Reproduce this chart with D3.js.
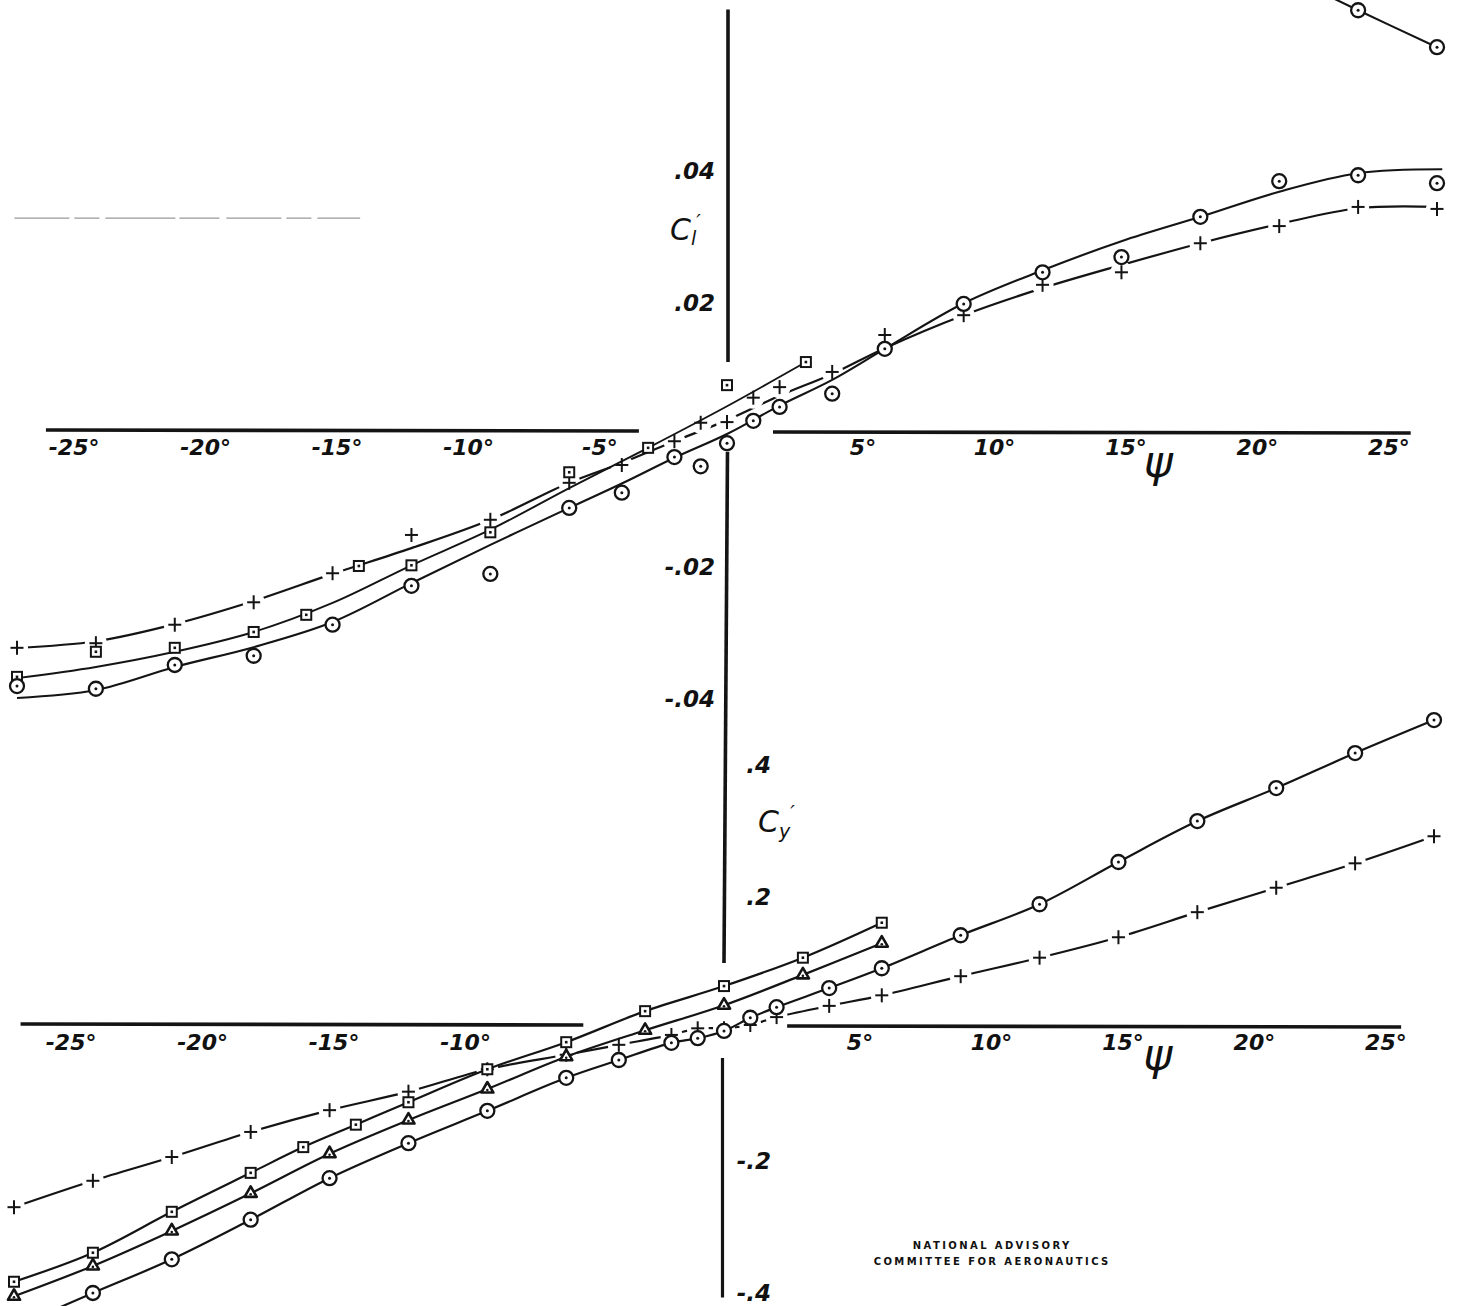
<!DOCTYPE html>
<html><head><meta charset="utf-8">
<script src="https://cdn.jsdelivr.net/npm/d3@7"></script>
<style>
html,body{margin:0;padding:0;background:#fff;}
svg{display:block;}
text{font-family:"DejaVu Sans",sans-serif;font-style:oblique;fill:#111;}
</style></head><body>
<svg id="chart" width="1458" height="1306"></svg>
<script>
// ---------------- DATA ----------------
// Upper panel: rolling-moment coefficient Cl' vs sideslip psi (deg)
const psiUpper = [-27,-24,-21,-18,-15,-12,-9,-6,-4,-2,-1,0,1,2,4,6,9,12,15,18,21,24,27];
const clCircle = [-0.0385,-0.0389,-0.0353,-0.0339,-0.0292,-0.0233,-0.0215,-0.0115,-0.0092,-0.0038,-0.0052,-0.0017,0.0017,0.0038,0.0058,0.0126,0.0194,0.0242,0.0265,0.0326,0.0380,0.0389,0.0377];
const clPlus   = [-0.0327,-0.0320,-0.0292,-0.0258,-0.0214,-0.0156,-0.0133,-0.0077,-0.0050,-0.0014,0.0014,0.0015,0.0052,0.0068,0.0091,0.0147,0.0177,0.0223,0.0242,0.0286,0.0312,0.0341,0.0338];
const psiUpperSquare = [-27,-24,-21,-18,-16,-14,-12,-9,-6,-3,0,3];
const clSquare = [-0.0371,-0.0333,-0.0327,-0.0303,-0.0277,-0.0203,-0.0202,-0.0152,-0.0061,-0.0024,0.0071,0.0106];
const psiUpperTop = [21,24,27];
const clTop = [0.0697,0.0639,0.0583];

// Faired curves of the upper panel
const psiCircleFair = [-27,-24,-21,-18,-15,-12,-9,-6,-4,-2,0,2,4,6,9,12,15,18,21,24,27.2];
const clCircleFair  = [-0.0403,-0.0391,-0.0356,-0.0326,-0.0288,-0.0229,-0.0171,-0.0115,-0.0078,-0.0039,-0.0003,0.0040,0.0079,0.0126,0.0195,0.0245,0.0289,0.0326,0.0364,0.0392,0.0398];
const psiSquareFair = [-27,-24,-21,-18,-15,-12,-9,-6,-3,0,3];
const clSquareFair  = [-0.0373,-0.0356,-0.0333,-0.0303,-0.0259,-0.0202,-0.0148,-0.0085,-0.0024,0.0039,0.0106];
const psiPlusFair = [-27,-24,-21,-18,-15,-12,-9,-6,-4,-2,0,2,4,6,9,12,15,18,21,24,27];
const clPlusFair  = [-0.0327,-0.0317,-0.0291,-0.0256,-0.0215,-0.0176,-0.0133,-0.0077,-0.0047,-0.0014,0.0018,0.0055,0.0088,0.0127,0.0177,0.0218,0.0253,0.0286,0.0315,0.0339,0.0341];

// Lower panel: side-force coefficient Cy' vs psi (deg)
const psiLower = [-27,-24,-21,-18,-15,-12,-9,-6,-4,-2,-1,0,1,2,4,6,9,12,15,18,21,24,27];
const cyCircle = [-0.455,-0.403,-0.352,-0.292,-0.229,-0.176,-0.127,-0.077,-0.050,-0.024,-0.017,-0.006,0.014,0.030,0.059,0.089,0.139,0.186,0.250,0.312,0.362,0.415,0.465];
const cyPlus   = [-0.273,-0.233,-0.197,-0.159,-0.126,-0.098,-0.064,-0.042,-0.027,-0.012,-0.002,-0.002,0.003,0.015,0.032,0.048,0.077,0.105,0.136,0.174,0.211,0.248,0.289];
const psiLowerSquare = [-27,-24,-21,-18,-16,-14,-12,-9,-6,-3,0,3,6];
const cySquare = [-0.386,-0.342,-0.280,-0.221,-0.182,-0.148,-0.114,-0.064,-0.023,0.024,0.062,0.105,0.158];
const psiLowerTri = [-27,-24,-21,-18,-15,-12,-9,-6,-3,0,3,6];
const cyTri = [-0.408,-0.362,-0.309,-0.252,-0.192,-0.141,-0.094,-0.045,-0.005,0.033,0.079,0.127];

// Tick labels
const upperXTicks = [-25,-20,-15,-10,-5,5,10,15,20,25];
const lowerXTicks = [-25,-20,-15,-10,5,10,15,20,25];
const upperYTicks = [0.04,0.02,-0.02,-0.04];
const upperYLabels = [".04",".02","-.02","-.04"];
const lowerYTicks = [0.4,0.2,-0.2,-0.4];
const lowerYLabels = [".4",".2","-.2","-.4"];
const noteLines = ["NATIONAL ADVISORY","COMMITTEE FOR AERONAUTICS"];

// ---------------- DRAW ----------------
const svg = d3.select("#chart");
const W = 1458, H = 1306;
svg.append("rect").attr("width",W).attr("height",H).attr("fill","#fff");

const xU = d3.scaleLinear().domain([-27,27]).range([17,1437]);
const yU = d3.scaleLinear().domain([-0.04,0.04]).range([696,168]);
const xL = d3.scaleLinear().domain([-27,27]).range([14,1434]);
const yL = d3.scaleLinear().domain([-0.4,0.4]).range([1291,763]);

const ink = "#141414";
const defs = svg.append("defs");

function zip(xs, ys){ return xs.map((x,i)=>[x, ys[i]]); }

// masks for the gapped (long-dash) plus lines
function makeMask(id, pts, xs, ys){
  const m = defs.append("mask").attr("id",id).attr("maskUnits","userSpaceOnUse")
    .attr("x",0).attr("y",0).attr("width",W).attr("height",H);
  m.append("rect").attr("width",W).attr("height",H).attr("fill","#fff");
  m.selectAll("circle").data(pts).join("circle")
    .attr("cx",d=>xs(d[0])).attr("cy",d=>ys(d[1])).attr("r",11).attr("fill","#000");
}

// ---- axes lines ----
const axes = svg.append("g").attr("stroke",ink).attr("stroke-linecap","butt").attr("fill","none");
// upper horizontal
axes.append("line").attr("x1",xU(-25.9)).attr("x2",xU(-3.35)).attr("y1",yU(0)-2).attr("y2",yU(0)-1).attr("stroke-width",3.6);
axes.append("line").attr("x1",xU(1.75)).attr("x2",xU(26.0)).attr("y1",yU(0)).attr("y2",yU(0)+1).attr("stroke-width",3.6);
// upper vertical
axes.append("line").attr("x1",xU(0)+1).attr("x2",xU(0)+1).attr("y1",yU(0.064)).attr("y2",yU(0.0106)).attr("stroke-width",3.6);
axes.append("line").attr("x1",xU(0)+0.5).attr("x2",xL(0)).attr("y1",yU(-0.003)).attr("y2",yL(0.097)).attr("stroke-width",3.6);
// lower vertical (below axis)
axes.append("line").attr("x1",xL(0)-1.5).attr("x2",xL(0)-1.5).attr("y1",yL(-0.047)).attr("y2",yL(-0.41)).attr("stroke-width",3.2);
// lower horizontal
axes.append("line").attr("x1",xL(-26.75)).attr("x2",xL(-5.35)).attr("y1",yL(0)-3).attr("y2",yL(0)-2).attr("stroke-width",3.6);
axes.append("line").attr("x1",xL(2.4)).attr("x2",xL(25.75)).attr("y1",yL(0)-1).attr("y2",yL(0)).attr("stroke-width",3.6);

// faint scan line artefact in upper-left
svg.append("line").attr("x1",xU(-27.1)).attr("x2",xU(-13.95)).attr("y1",yU(0.0324)).attr("y2",yU(0.0324))
  .attr("stroke","#9a9a9a").attr("stroke-width",1.3).attr("stroke-dasharray","55,5,25,6,70,4,40,7");

// ---- tick labels ----
const fmt = d => (d<0?"-":"") + Math.abs(d) + "°";
function xAxis(scale, y, ticks){
  const g = svg.append("g").attr("transform",`translate(0,${y})`)
    .call(d3.axisBottom(scale).tickValues(ticks).tickFormat(fmt).tickSize(0).tickPadding(7));
  g.select(".domain").remove();
  g.selectAll("text").attr("font-size",22).attr("dx",4)
    .style("font-family",'"DejaVu Sans",sans-serif').style("font-style","oblique")
    .style("font-weight","bold").attr("fill",ink);
  return g;
}
xAxis(xU, yU(0), upperXTicks);
xAxis(xL, yL(0), lowerXTicks);

// psi labels
svg.append("text").attr("x",xU(16.4)).attr("y",yU(0)+45).attr("font-size",44).attr("text-anchor","middle").text("ψ");
svg.append("text").attr("x",xL(16.5)).attr("y",yL(0)+43).attr("font-size",44).attr("text-anchor","middle").text("ψ");

// y labels upper (left of axis)
svg.append("g").selectAll("text").data(upperYTicks).join("text")
  .attr("x",xU(0)-12).attr("y",d=>yU(d)+11).attr("text-anchor","end").attr("font-size",23)
  .attr("font-weight","bold").text((d,i)=>upperYLabels[i]);
const clLab = svg.append("text").attr("x",xU(0)-57).attr("y",yU(0.031)+13).attr("font-size",30);
clLab.append("tspan").text("C");
clLab.append("tspan").attr("font-size",19).attr("dy",5).text("l");
clLab.append("tspan").attr("font-size",20).attr("dy",-17).text("′");

// y labels lower (right of axis)
svg.append("g").selectAll("text").data(lowerYTicks).join("text")
  .attr("x",xL(0)+47).attr("y",d=>yL(d)+10).attr("text-anchor","end").attr("font-size",23)
  .attr("font-weight","bold").text((d,i)=>lowerYLabels[i]);
const cyLab = svg.append("text").attr("x",xL(0)+34).attr("y",yL(0.31)+10).attr("font-size",30);
cyLab.append("tspan").text("C");
cyLab.append("tspan").attr("font-size",19).attr("dy",6).text("y");
cyLab.append("tspan").attr("font-size",20).attr("dy",-19).text("′");

// ---- lines ----
const curve = d3.curveCatmullRom.alpha(0.5);
function drawLine(data, xs, ys, opts={}){
  const p = svg.append("path").datum(data)
    .attr("d", d3.line().x(d=>xs(d[0])).y(d=>ys(d[1])).curve(curve))
    .attr("fill","none").attr("stroke",ink).attr("stroke-width",opts.w||2.1)
    .attr("stroke-linejoin","round");
  if (opts.mask) p.attr("mask",`url(#${opts.mask})`);
  return p;
}

const upPlusPts = zip(psiUpper, clPlus);
const lowPlusPts = zip(psiLower, cyPlus);
makeMask("gapU", upPlusPts, xU, yU);
makeMask("gapL", lowPlusPts, xL, yL);

// upper panel
drawLine(zip(psiCircleFair, clCircleFair), xU, yU);
drawLine(zip(psiSquareFair, clSquareFair), xU, yU, {w:1.9});
drawLine(zip(psiPlusFair, clPlusFair), xU, yU, {mask:"gapU", w:2.2});
drawLine(zip(psiUpperTop, clTop), xU, yU);

// lower panel
drawLine(zip(psiLower, cyCircle), xL, yL, {w:2.2});
drawLine(zip(psiLowerSquare, cySquare), xL, yL, {w:2.2});
drawLine(zip(psiLowerTri, cyTri), xL, yL, {w:2.2});
drawLine(lowPlusPts, xL, yL, {mask:"gapL", w:2.2});

// ---- markers ----
function circles(pts, xs, ys){
  const g = svg.append("g").selectAll("g").data(pts).join("g")
    .attr("transform",d=>`translate(${xs(d[0])},${ys(d[1])})`);
  g.append("circle").attr("r",7).attr("fill","#fff").attr("stroke",ink).attr("stroke-width",2.3);
  g.append("circle").attr("r",1.5).attr("fill",ink);
}
function squares(pts, xs, ys){
  const g = svg.append("g").selectAll("g").data(pts).join("g")
    .attr("transform",d=>`translate(${xs(d[0])},${ys(d[1])})`);
  g.append("rect").attr("x",-5).attr("y",-5).attr("width",10).attr("height",10)
    .attr("fill","#fff").attr("stroke",ink).attr("stroke-width",2);
  g.append("rect").attr("x",-1.3).attr("y",-1.3).attr("width",2.6).attr("height",2.6).attr("fill",ink);
}
function triangles(pts, xs, ys){
  const g = svg.append("g").selectAll("g").data(pts).join("g")
    .attr("transform",d=>`translate(${xs(d[0])},${ys(d[1])})`);
  g.append("path").attr("d",d3.symbol(d3.symbolTriangle,64)())
    .attr("fill","#fff").attr("stroke",ink).attr("stroke-width",2.6).attr("stroke-linejoin","round");
  g.append("circle").attr("r",1.3).attr("cy",1).attr("fill",ink);
}
function pluses(pts, xs, ys){
  const g = svg.append("g").selectAll("g").data(pts).join("g")
    .attr("transform",d=>`translate(${xs(d[0])},${ys(d[1])})`)
    .attr("stroke",ink).attr("stroke-width",2);
  g.append("line").attr("x1",-6.5).attr("x2",6.5);
  g.append("line").attr("y1",-7).attr("y2",7);
}

pluses(upPlusPts, xU, yU);
squares(zip(psiUpperSquare, clSquare), xU, yU);
circles(zip(psiUpper, clCircle), xU, yU);
circles(zip(psiUpperTop, clTop), xU, yU);

pluses(lowPlusPts, xL, yL);
squares(zip(psiLowerSquare, cySquare), xL, yL);
triangles(zip(psiLowerTri, cyTri), xL, yL);
circles(zip(psiLower, cyCircle), xL, yL);

// ---- footnote ----
svg.append("g").selectAll("text").data(noteLines).join("text")
  .attr("x", xL(10.2)).attr("y",(d,i)=>1249+i*16).attr("text-anchor","middle")
  .attr("font-size",10).attr("font-weight","bold").style("font-style","normal")
  .attr("letter-spacing",2.4).text(d=>d);
</script>
</body></html>
